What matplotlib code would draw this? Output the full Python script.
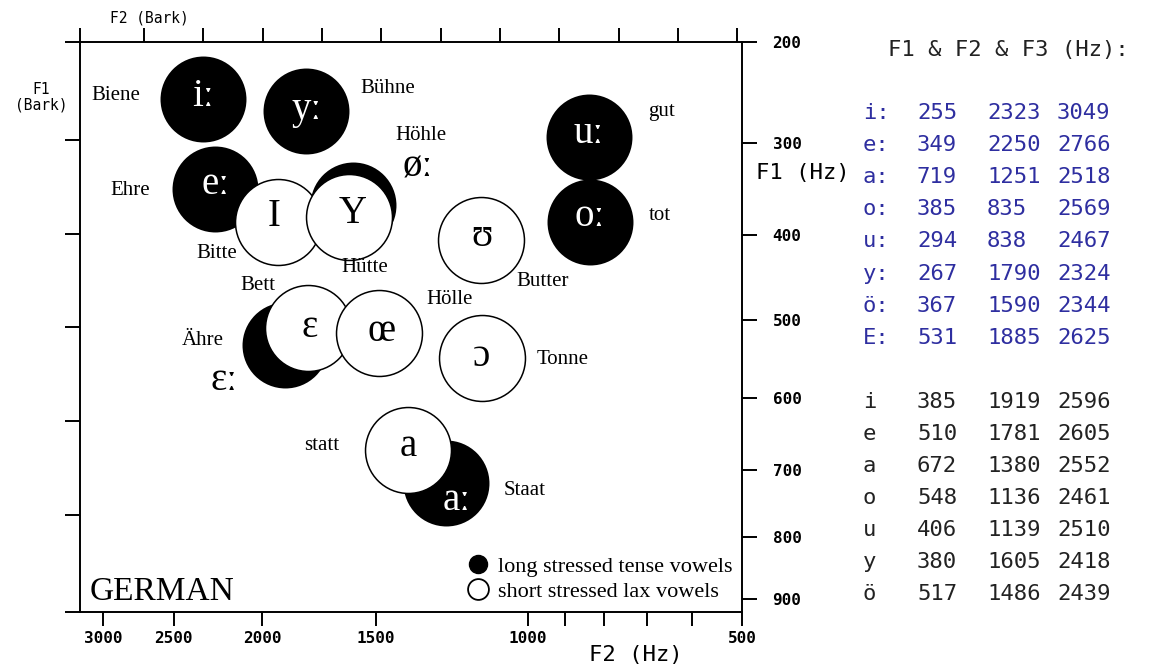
import numpy as np
import matplotlib
matplotlib.use("Agg")
import matplotlib.pyplot as plt
from matplotlib.lines import Line2D

# long stressed tense vowels: F1, F2, F3 in Hz
long_names = ["i:", "e:", "a:", "o:", "u:", "y:", "ö:", "E:"]
long_ipa = ["iː", "eː", "aː", "oː", "uː", "yː", "øː", "ɛː"]
long_words = ["Biene", "Ehre", "Staat", "tot", "gut", "Bühne", "Höhle", "Ähre"]
long_f1 = [255, 349, 719, 385, 294, 267, 367, 531]
long_f2 = [2323, 2250, 1251, 835, 838, 1790, 1590, 1885]
long_f3 = [3049, 2766, 2518, 2569, 2467, 2324, 2344, 2625]

# short stressed lax vowels
short_names = ["i", "e", "a", "o", "u", "y", "ö"]
short_ipa = ["I", "ɛ", "a", "ɔ", "ʊ", "Y", "œ"]
short_words = ["Bitte", "Bett", "statt", "Tonne", "Butter", "Hütte", "Hölle"]
short_f1 = [385, 510, 672, 548, 406, 380, 517]
short_f2 = [1919, 1781, 1380, 1136, 1139, 1605, 1486]
short_f3 = [2596, 2605, 2552, 2461, 2510, 2418, 2439]

f1_ticks = [200, 300, 400, 500, 600, 700, 800, 900]
f2_ticks = [3000, 2500, 2000, 1500, 1000, 500]
f2_minor = [900, 800, 700, 600]
f2_bark_ticks = list(range(5, 16))
f1_bark_ticks = [3, 4, 5, 6, 7]

# label offsets in pixels (dx, dy; dy positive = down)
long_sym_off = [(0, -2), (0, -4), (11, 17), (0, -5), (0, -3), (1, -1), (65, -38), (-61, 36)]
long_sym_col = ["white"] * 6 + ["black", "black"]
long_word_off = [(-87, -3), (-85, 2), (79, 7), (70, -6), (73, -25), (82, -22), (68, -70), (-83, -4)]
short_sym_off = [(-4, -5), (2, 0), (0, -4), (0, -2), (1, -4), (3, -4), (2, -2)]
short_word_off = [(-62, 32), (-50, -42), (-86, -5), (81, 1), (62, 41), (16, 50), (70, -34)]


def hz2bark(f):
    f = np.asarray(f, dtype=float)
    with np.errstate(divide="ignore", invalid="ignore"):
        return 26.81 * f / (1960.0 + f) - 0.53


def bark2hz(z):
    z = np.asarray(z, dtype=float)
    with np.errstate(divide="ignore", invalid="ignore"):
        return 1960.0 * (z + 0.53) / (26.28 - z)


W, H = 1149, 666
fig = plt.figure(figsize=(W / 100, H / 100), dpi=100)
fig.patch.set_facecolor("white")

serif = ["Liberation Serif", "DejaVu Serif"]
mono = ["DejaVu Sans Mono"]

ax = fig.add_axes([80 / W, (H - 612) / H, 662 / W, 570 / H])
ax.set_xscale("function", functions=(hz2bark, bark2hz))
ax.set_yscale("function", functions=(hz2bark, bark2hz))
ax.set_xlim(3190, 500)
ax.set_ylim(921, 200)

# top axis: F2 in Bark
ax_t = ax.twiny()
ax_t.set_xlim(hz2bark(3190), hz2bark(500))
ax_t.set_xticks(f2_bark_ticks + [float(hz2bark(3190))])
ax_t.set_xticklabels([])
ax_t.tick_params(axis="x", direction="out", length=10, width=1.4)
for s in ax_t.spines.values():
    s.set_visible(False)

# left axis: F1 in Bark
ax_l = ax.twinx()
ax_l.set_ylim(hz2bark(921), hz2bark(200))
ax_l.yaxis.tick_left()
ax_l.set_yticks(f1_bark_ticks + [float(hz2bark(200)), float(hz2bark(921))])
ax_l.set_yticklabels([])
ax_l.tick_params(axis="y", direction="out", length=11, width=1.4)
for s in ax_l.spines.values():
    s.set_visible(False)

for s in ax.spines.values():
    s.set_linewidth(1.4)

# bottom axis: F2 Hz
ax.xaxis.tick_bottom()
ax.set_xticks(f2_ticks)
ax.set_xticklabels([str(v) for v in f2_ticks], family=mono, weight="bold", fontsize=11.5)
ax.set_xticks(f2_minor, minor=True)
ax.tick_params(axis="x", which="both", direction="out", length=10, width=1.4, pad=3.5)
ax.xaxis.set_minor_formatter(plt.NullFormatter())

# right axis: F1 Hz
ax.yaxis.tick_right()
ax.set_yticks(f1_ticks)
ax.set_yticklabels([str(v) for v in f1_ticks], family=mono, weight="bold", fontsize=11.5)
ax.yaxis.set_minor_locator(plt.NullLocator())
ax.tick_params(axis="y", direction="out", length=11, width=1.4, pad=11)

# vowel circles
S = 3830
ax.scatter(long_f2, long_f1, s=S, c="black", linewidths=0, zorder=2)
ax.scatter(short_f2, short_f1, s=S, facecolors="white", edgecolors="black", linewidths=1.1, zorder=3)

for f2, f1, sym, (dx, dy), col in zip(long_f2, long_f1, long_ipa, long_sym_off, long_sym_col):
    ax.annotate(sym, (f2, f1), xytext=(dx, -dy), textcoords="offset pixels", ha="center", va="center",
                family=serif, fontsize=28, color=col, zorder=5)
for f2, f1, w, (dx, dy) in zip(long_f2, long_f1, long_words, long_word_off):
    ax.annotate(w, (f2, f1), xytext=(dx, -dy), textcoords="offset pixels", ha="center", va="center",
                family=serif, fontsize=15, zorder=5)
for f2, f1, sym, (dx, dy) in zip(short_f2, short_f1, short_ipa, short_sym_off):
    ax.annotate(sym, (f2, f1), xytext=(dx, -dy), textcoords="offset pixels", ha="center", va="center",
                family=serif, fontsize=28, color="black", zorder=5)
for f2, f1, w, (dx, dy) in zip(short_f2, short_f1, short_words, short_word_off):
    ax.annotate(w, (f2, f1), xytext=(dx, -dy), textcoords="offset pixels", ha="center", va="center",
                family=serif, fontsize=15, zorder=5)

ax.text(0.015, 0.035, "GERMAN", transform=ax.transAxes, ha="left", va="center",
        family=serif, fontsize=24)

handles = [
    Line2D([], [], ls="", marker="o", markersize=13, markerfacecolor="black", markeredgecolor="black"),
    Line2D([], [], ls="", marker="o", markersize=15, markerfacecolor="white", markeredgecolor="black",
           markeredgewidth=1.3),
]
ax.legend(handles, ["long stressed tense vowels", "short stressed lax vowels"], loc="lower right",
          bbox_to_anchor=(1.0, 0.0), frameon=False, prop={"family": serif, "size": 16},
          handletextpad=0.3, labelspacing=0.2, borderaxespad=0.05, handlelength=1.2)

# axis titles
fig.text(110 / W, 1 - 18 / H, "F2 (Bark)", family=mono, fontsize=10.5, ha="left", va="center")
fig.text(41 / W, 1 - 97 / H, "F1\n(Bark)", family=mono, fontsize=10.5, ha="center", va="center",
         linespacing=1.0)
fig.text(803 / W, 1 - 173 / H, "F1 (Hz)", family=mono, fontsize=16, ha="center", va="center")
fig.text(636 / W, 1 - 655 / H, "F2 (Hz)", family=mono, fontsize=16, ha="center", va="center")

# formant table
fig.text(888 / W, 1 - 50 / H, "F1 & F2 & F3 (Hz):", family=mono, fontsize=16, ha="left", va="center",
         color="#222222")
cols = [863, 917, 987, 1057]
blue = "#2e2ea0"
for i, row in enumerate(zip(long_names, long_f1, long_f2, long_f3)):
    y = 113 + i * 32.1
    for x, v in zip(cols, row):
        fig.text(x / W, 1 - y / H, str(v), family=mono, fontsize=16, ha="left", va="center", color=blue)
for i, row in enumerate(zip(short_names, short_f1, short_f2, short_f3)):
    y = 402 + i * 32.0
    for x, v in zip(cols, row):
        fig.text(x / W, 1 - y / H, str(v), family=mono, fontsize=16, ha="left", va="center", color="#222222")

fig.savefig("out.png", dpi=100)
